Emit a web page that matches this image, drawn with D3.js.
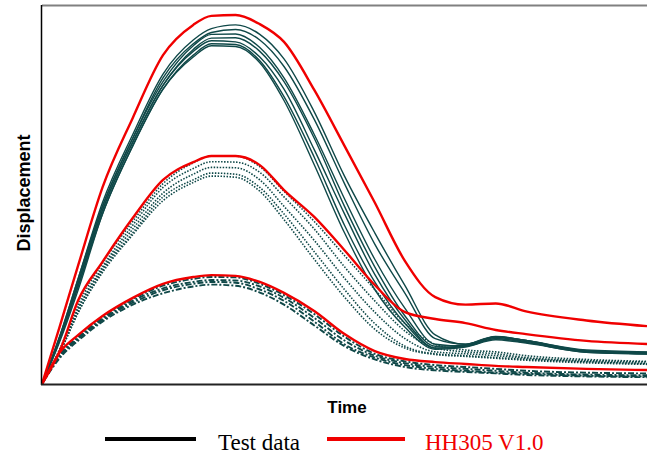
<!DOCTYPE html>
<html lang="en">
<head>
  <meta charset="UTF-8">
  <title>Displacement vs time</title>
  <script src="https://d3js.org/d3.v7.min.js"></script>
  <style>
    body { margin: 0; background: #fff; }
  </style>
</head>
<body>
  <div id="viz"></div>

  <script>
    // Data (time and displacement in arbitrary units, 0..100)
    const time = [0, 3, 6, 10, 15, 20, 25, 28, 32, 36, 40, 45, 50, 55, 60, 65, 70, 75, 80, 90, 100];

    // HH305 V1.0 model curves
    const modelLarge  = [0, 15.6, 31.5, 52, 70.4, 87, 95, 97.4, 97.6, 95.2, 90.5, 77.8, 63, 48, 32.5, 23, 21, 21.3, 19.2, 16.8, 15.3];
    const modelMedium = [0, 9, 22.2, 32.3, 43.9, 54, 58.7, 60.3, 60.3, 57.9, 51.3, 44.2, 35.4, 26.2, 19, 17.2, 16.1, 14.3, 13.2, 11.4, 10.6];
    const modelSmall  = [0, 8.5, 13, 18, 22.8, 26.5, 28.3, 28.8, 28.6, 27, 24.1, 19.3, 13.2, 8.7, 6.6, 5.8, 5.3, 4.8, 4.5, 4, 3.7];

    // Test data, large amplitude (solid)
    const testLarge = [
      [0, 13, 28, 48, 66, 82, 91, 94, 95, 92.5, 86, 72, 55, 40, 26, 13, 10.5, 12.5, 11.5, 8.5, 8],
      [0, 13, 28, 47, 65, 81, 90, 93, 93.8, 91, 84, 70, 53, 37, 24, 12, 10.5, 12.5, 11.5, 8.7, 8],
      [0, 12.5, 27, 47, 65, 80, 89.5, 92.5, 92.6, 89, 81, 66, 49, 33, 20, 10.5, 10, 12, 11, 8.4, 8],
      [0, 12.5, 27, 46, 64, 79, 88.5, 91.5, 91.6, 88, 80, 65, 47, 31, 18, 10, 10.2, 12.3, 11.2, 8.8, 8.4],
      [0, 12, 26, 46, 64, 79, 88, 90.8, 90.5, 86.5, 78, 62, 45, 29, 17, 9.5, 10.3, 12.6, 11.5, 9, 8.5],
      [0, 12, 26, 45, 63, 78, 87, 90, 89.8, 85.5, 76, 60, 42, 27, 16, 9.5, 10, 12, 11, 8.6, 8.2],
      [0, 11.5, 25, 45, 63, 78, 86.5, 89.5, 89.3, 85, 75, 58, 40, 25, 15, 9.2, 9.8, 11.7, 10.8, 8.4, 8]
    ];

    // Test data, medium amplitude (dotted)
    const testMedium = [
      [0, 9.5, 21, 32, 43, 53, 58.5, 60.3, 60.3, 57.5, 51, 43, 34, 25, 16, 10.5, 9, 8.5, 7.5, 6.5, 6],
      [0, 9, 20, 31, 42, 52, 57, 58.8, 58.7, 56, 49.5, 41, 31, 22, 14, 9.5, 8.5, 8, 7, 6.2, 5.8],
      [0, 9, 20, 30.5, 41, 50.5, 55.5, 57.3, 57.2, 54, 47, 38, 28, 19, 12, 8.5, 8, 7.5, 6.8, 6, 5.5],
      [0, 8.5, 19, 30, 40, 49.5, 54, 55.8, 55.5, 52, 45, 35, 25, 16, 10, 8, 7.5, 7, 6.5, 5.8, 5.3],
      [0, 8.5, 19, 29.5, 39.5, 48.5, 53.3, 55, 54.7, 51, 43.5, 33, 23, 14.5, 9.5, 7.8, 7.3, 6.8, 6.3, 5.6, 5.2]
    ];

    // Test data, small amplitude (dash-dot)
    const testSmall = [
      [0, 8, 12.5, 17.5, 22.5, 26, 27.8, 28.3, 28.2, 26.5, 23.5, 18.5, 12.5, 8, 6, 5, 4.5, 4, 3.5, 3, 2.8],
      [0, 7.5, 12, 17, 22, 25.3, 27, 27.5, 27.4, 25.8, 22.8, 17.5, 11.5, 7.5, 5.5, 4.5, 4, 3.5, 3, 2.5, 2.3],
      [0, 7.5, 12, 17, 21.5, 24.8, 26.5, 27, 26.8, 25, 22, 16.5, 10.5, 7, 5, 4, 3.5, 3, 2.7, 2.2, 2],
      [0, 7, 11.5, 16.5, 21, 24, 25.8, 26.3, 26, 24.2, 21, 15.5, 10, 6.5, 4.5, 3.6, 3.2, 2.8, 2.4, 2, 1.8]
    ];

    const legendLabels = ["Test data", "HH305 V1.0"];

    const W = 647, H = 457;
    const plotLeft = 42, plotRight = 647, plotTop = 6, plotBottom = 384;
    const testColor = "#0f4848", modelColor = "#f00000";

    const svg = d3.select("#viz").append("svg")
      .attr("width", W)
      .attr("height", H);

    const x = d3.scaleLinear().domain([0, 100]).range([plotLeft, plotRight]);
    const y = d3.scaleLinear().domain([0, 100]).range([plotBottom, plotTop]);

    const line = d3.line()
      .x((d, i) => x(time[i]))
      .y(d => y(d))
      .curve(d3.curveMonotoneX);

    svg.append("clipPath").attr("id", "plot")
      .append("rect")
        .attr("x", plotLeft).attr("y", plotTop)
        .attr("width", plotRight - plotLeft).attr("height", plotBottom - plotTop);

    const g = svg.append("g").attr("clip-path", "url(#plot)");

    // test curves
    const groups = [
      { data: testLarge, dash: null, width: 1.4 },
      { data: testMedium, dash: "1.5,1.5", width: 1.6 },
      { data: testSmall, dash: "6,2,2,2", width: 1.9 }
    ];
    groups.forEach(grp => {
      g.selectAll(null)
        .data(grp.data)
        .enter().append("path")
          .attr("d", line)
          .attr("fill", "none")
          .attr("stroke", testColor)
          .attr("stroke-width", grp.width)
          .attr("stroke-dasharray", grp.dash);
    });

    // model curves on top
    g.selectAll(null)
      .data([modelLarge, modelMedium, modelSmall])
      .enter().append("path")
        .attr("d", line)
        .attr("fill", "none")
        .attr("stroke", modelColor)
        .attr("stroke-width", 2.4);

    // frame: left + bottom black, top grey
    svg.append("line")
      .attr("x1", plotLeft).attr("x2", plotRight)
      .attr("y1", plotTop - 0.5).attr("y2", plotTop - 0.5)
      .attr("stroke", "#808080").attr("stroke-width", 2);
    svg.append("line")
      .attr("x1", plotLeft - 0.5).attr("x2", plotLeft - 0.5)
      .attr("y1", plotTop - 1).attr("y2", plotBottom + 1)
      .attr("stroke", "#000").attr("stroke-width", 1.5);
    svg.append("line")
      .attr("x1", plotLeft - 1).attr("x2", plotRight)
      .attr("y1", plotBottom + 0.5).attr("y2", plotBottom + 0.5)
      .attr("stroke", "#222").attr("stroke-width", 2);

    // axis titles
    svg.append("text")
      .attr("x", 347).attr("y", 413)
      .attr("text-anchor", "middle")
      .style("font", "bold 17px 'Liberation Sans', Arial, sans-serif")
      .text("Time");
    svg.append("text")
      .attr("transform", "translate(30,193) rotate(-90)")
      .attr("text-anchor", "middle")
      .style("font", "bold 18px 'Liberation Sans', Arial, sans-serif")
      .text("Displacement");

    // legend
    const legend = [
      { label: legendLabels[0], color: "#000", x1: 105, x2: 196, tx: 218 },
      { label: legendLabels[1], color: modelColor, x1: 327, x2: 405, tx: 425 }
    ];
    legend.forEach(d => {
      svg.append("line")
        .attr("x1", d.x1).attr("x2", d.x2)
        .attr("y1", 439).attr("y2", 439)
        .attr("stroke", d.color).attr("stroke-width", 4);
      svg.append("text")
        .attr("x", d.tx).attr("y", 450)
        .attr("fill", d.color)
        .style("font", "23px 'Liberation Serif', 'Times New Roman', serif")
        .text(d.label);
    });
  </script>
</body>
</html>
